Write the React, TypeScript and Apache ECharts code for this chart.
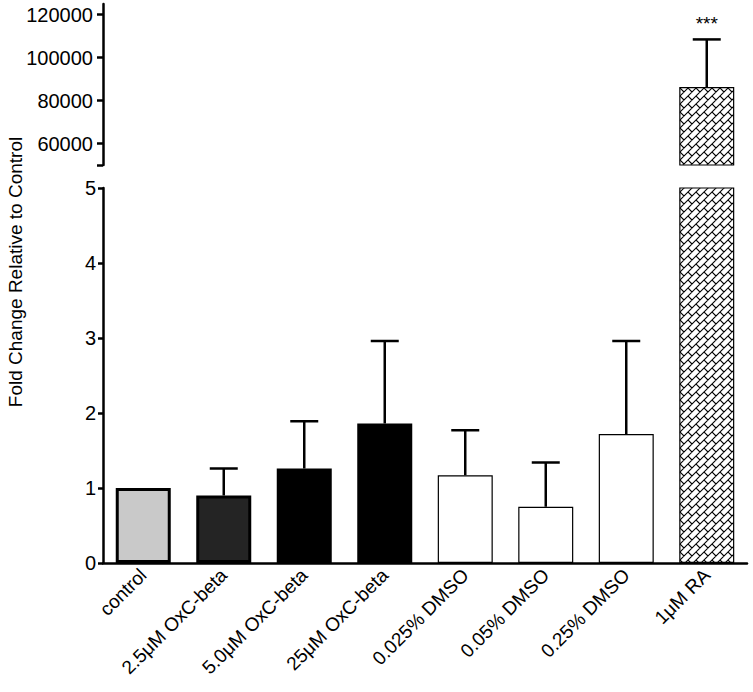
import React, { useEffect, useRef } from "react";
import * as echarts from "echarts";

const categories = [
  "control",
  "2.5\u03bcM OxC-beta",
  "5.0\u03bcM OxC-beta",
  "25\u03bcM OxC-beta",
  "0.025% DMSO",
  "0.05% DMSO",
  "0.25% DMSO",
  "1\u03bcM RA",
];
const means = [1.0, 0.9, 1.26, 1.86, 1.17, 0.75, 1.72, 86300];
const errors = [0, 0.36, 0.63, 1.1, 0.6, 0.59, 1.24, 22200];
const significance = ["", "", "", "", "", "", "", "***"];
const lowerTicks = [0, 1, 2, 3, 4, 5];
const upperTickValues = [50000, 60000, 80000, 100000, 120000];
const upperLabelValues = [60000, 80000, 100000, 120000];
const lowerRange = [0, 5];
const upperRange = [50000, 125000];

const FONT = "'Liberation Sans', Arial, Helvetica, sans-serif";

function makeHatch(): HTMLCanvasElement {
  const c = document.createElement("canvas");
  c.width = 8;
  c.height = 8;
  const ctx = c.getContext("2d")!;
  ctx.fillStyle = "#fff";
  ctx.fillRect(0, 0, 8, 8);
  ctx.strokeStyle = "#000";
  ctx.lineWidth = 1.1;
  ctx.beginPath();
  ctx.moveTo(-1, 9);
  ctx.lineTo(9, -1);
  ctx.moveTo(-1, 1);
  ctx.lineTo(1, -1);
  ctx.moveTo(7, 9);
  ctx.lineTo(9, 7);
  ctx.moveTo(0, 0);
  ctx.lineTo(4, 4);
  ctx.stroke();
  return c;
}

export default function App() {
  const ref = useRef<HTMLDivElement>(null);
  useEffect(() => {
    if (!ref.current) return;
    const chart = echarts.init(ref.current, null, { renderer: "svg" });
    const hatch = makeHatch();

    const styles = [
      { color: "#c9c9c9", borderColor: "#000", borderWidth: 3 },
      { color: "#242424", borderColor: "#000", borderWidth: 3 },
      { color: "#000", borderColor: "#000", borderWidth: 3 },
      { color: "#000", borderColor: "#000", borderWidth: 3 },
      { color: "#fff", borderColor: "#000", borderWidth: 1.2 },
      { color: "#fff", borderColor: "#000", borderWidth: 1.2 },
      { color: "#fff", borderColor: "#000", borderWidth: 1.2 },
      { color: { image: hatch, repeat: "repeat" }, borderColor: "#000", borderWidth: 1.2 },
    ];

    const barData = means.map((v, i) => ({ value: v, itemStyle: styles[i] }));
    const errData = means.map((v, i) => [i, v, v + errors[i], significance[i]]);
    const lowerErr = errData.filter((d: any) => d[2] <= lowerRange[1] && d[2] > d[1]);
    const upperErr = errData.filter((d: any) => d[1] >= upperRange[0]);

    const renderErr = (params: any, api: any) => {
      const x = api.value(0);
      const lo = api.value(1);
      const hi = api.value(2);
      const p0 = api.coord([x, lo]);
      const p1 = api.coord([x, hi]);
      const ls = { stroke: "#000", lineWidth: 2.5 };
      const children: any[] = [
        { type: "line", shape: { x1: p0[0], y1: p0[1], x2: p1[0], y2: p1[1] }, style: ls },
        { type: "line", shape: { x1: p1[0] - 14, y1: p1[1], x2: p1[0] + 14, y2: p1[1] }, style: ls },
      ];
      const sig = api.value(3);
      if (sig) {
        children.push({
          type: "text",
          x: p1[0],
          y: p1[1] - 6,
          style: {
            text: String(sig),
            fill: "#000",
            font: `19px ${FONT}`,
            align: "center",
            verticalAlign: "bottom",
          },
        });
      }
      return { type: "group", children };
    };

    const axisLineStyle = { color: "#000", width: 2.5 };
    const plain = (v: number) => String(v);

    chart.setOption({
      animation: false,
      backgroundColor: "#fff",
      textStyle: { fontFamily: FONT },
      grid: [
        { left: 103, right: 6, top: 4, height: 161 },
        { left: 103, right: 6, top: 188, height: 375 },
      ],
      xAxis: [
        { gridIndex: 0, type: "category", data: categories, show: false },
        {
          gridIndex: 1,
          type: "category",
          data: categories,
          axisLine: { lineStyle: axisLineStyle },
          axisTick: { alignWithLabel: true, length: 6, lineStyle: axisLineStyle },
          axisLabel: {
            rotate: 45,
            interval: 0,
            hideOverlap: false,
            fontSize: 19,
            color: "#000",
            fontFamily: FONT,
            margin: 9,
          },
        },
      ],
      yAxis: [
        {
          gridIndex: 0,
          type: "value",
          min: upperRange[0],
          max: upperRange[1],
          axisLine: { show: true, lineStyle: axisLineStyle },
          axisTick: { show: true, length: 6, lineStyle: axisLineStyle, customValues: upperTickValues },
          axisLabel: {
            fontSize: 20,
            color: "#000",
            fontFamily: FONT,
            margin: 10,
            formatter: plain,
            customValues: upperLabelValues,
          },
          splitLine: { show: false },
        },
        {
          gridIndex: 1,
          type: "value",
          min: lowerRange[0],
          max: lowerRange[1],
          interval: 1,
          axisLine: { show: true, lineStyle: axisLineStyle },
          axisTick: { show: true, length: 5, lineStyle: axisLineStyle, customValues: lowerTicks },
          axisLabel: {
            fontSize: 20,
            color: "#000",
            fontFamily: FONT,
            margin: 7,
            formatter: plain,
            customValues: lowerTicks,
          },
          splitLine: { show: false },
        },
      ],
      graphic: [
        {
          type: "text",
          x: 15,
          y: 272,
          rotation: Math.PI / 2,
          style: {
            text: "Fold Change Relative to Control",
            fill: "#000",
            font: `19px ${FONT}`,
            align: "center",
            verticalAlign: "middle",
          },
        },
      ],
      series: [
        {
          type: "bar",
          xAxisIndex: 0,
          yAxisIndex: 0,
          data: barData,
          barWidth: 55,
          clip: true,
          z: 2,
        },
        {
          type: "bar",
          xAxisIndex: 1,
          yAxisIndex: 1,
          data: barData,
          barWidth: 55,
          clip: true,
          z: 2,
        },
        {
          type: "custom",
          xAxisIndex: 1,
          yAxisIndex: 1,
          data: lowerErr,
          renderItem: renderErr,
          clip: false,
          z: 3,
        },
        {
          type: "custom",
          xAxisIndex: 0,
          yAxisIndex: 0,
          data: upperErr,
          renderItem: renderErr,
          clip: false,
          z: 3,
        },
      ],
    });
    return () => chart.dispose();
  }, []);
  return (
    <div
      ref={ref}
      style={{ position: "fixed", left: 0, top: 0, width: 753, height: 692, background: "#fff" }}
    />
  );
}
